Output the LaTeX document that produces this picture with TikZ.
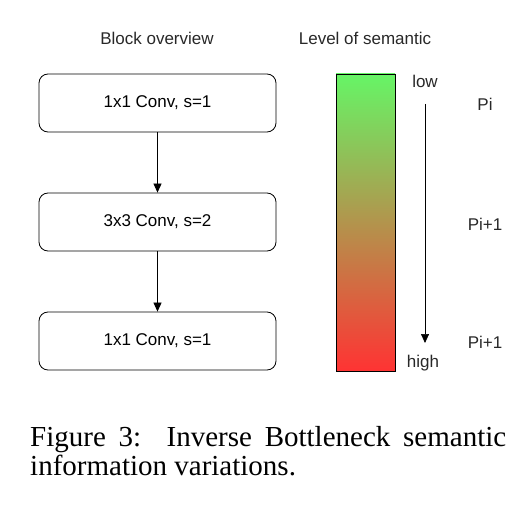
\documentclass[tikz,border=0pt]{standalone}
\usepackage{fontspec}
\setmainfont{Liberation Serif}
\newfontfamily\diagfont{Liberation Sans}
\usetikzlibrary{arrows.meta}
\definecolor{topgreen}{RGB}{102,245,102}
\definecolor{botred}{RGB}{255,51,51}
\definecolor{txtgray}{RGB}{40,40,40}
\tikzset{
  blockbox/.style={draw=black, rounded corners=9pt, minimum width=237pt, minimum height=58pt, inner sep=0pt, font=\diagfont\fontsize{17}{19}\selectfont, line width=0.8pt},
  lbl/.style={font=\diagfont\fontsize{17}{19}\selectfont, text=txtgray, inner sep=0pt},
  flow/.style={-{Triangle[length=9pt,width=8pt]}, line width=0.7pt},
  captxt/.style={anchor=base west, inner sep=0pt, font=\fontsize{29}{29}\selectfont},
}
\begin{document}
\begin{tikzpicture}[x=1pt,y=-1pt]
\useasboundingbox (0,0) rectangle (525,505);
\node[lbl] (t1) at (157,38) {Block overview};
\node[lbl] (t2) at (365,38) {Level of semantic};
\node[blockbox] (b1) at (157.5,103) {1x1 Conv, s=1};
\node[blockbox] (b2) at (157.5,222) {3x3 Conv, s=2};
\node[blockbox] (b3) at (157.5,341) {1x1 Conv, s=1};
\draw[flow] (b1.south) -- (b2.north);
\draw[flow] (b2.south) -- (b3.north);
\shade[top color=topgreen, bottom color=botred] (336,74) rectangle (395,371);
\node[draw=black, line width=0.8pt, minimum width=59pt, minimum height=297pt, inner sep=0pt] (bar) at (365.5,222.5) {};
\node[lbl] (low) at (425,81) {low};
\node[lbl] (high) at (423,363) {high};
\coordinate (as) at (425,104);
\coordinate (ae) at (425,343);
\draw[flow] (as) -- (ae);
\node[lbl] (p1) at (485,104) {Pi};
\node[lbl] (p2) at (485,224) {Pi+1};
\node[lbl] (p3) at (485,342) {Pi+1};
\node[captxt] (cap1) at (30,446) {\makebox[476pt][s]{Figure 3:\ \ Inverse Bottleneck semantic}};
\node[captxt] (cap2) at (30,475) {information variations.};
\end{tikzpicture}
\end{document}
